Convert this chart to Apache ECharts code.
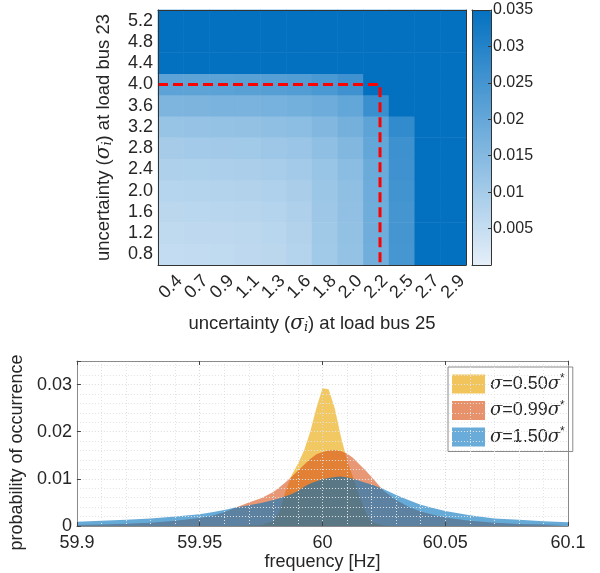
<!DOCTYPE html>
<html>
<head>
<meta charset="utf-8">
<script src="https://cdn.jsdelivr.net/npm/echarts@6/dist/echarts.min.js"></script>
<style>
html,body{margin:0;padding:0;background:#fff;}
#main{width:600px;height:573px;}
</style>
</head>
<body>
<div id="main"></div>
<script>
// ---------- top heatmap data ----------
const xCats = ['0.4','0.7','0.9','1.1','1.3','1.6','1.8','2.0','2.2','2.5','2.7','2.9'];
const yCats = ['0.8','1.2','1.6','2.0','2.4','2.8','3.2','3.6','4.0','4.4','4.8','5.2'];
// one array per y category (bottom to top), values per x category
const row08 = [0.0052,0.0055,0.0058,0.0061,0.0066,0.0076,0.0106,0.0126,0.0180,0.0248,0.035,0.035];
const row12 = [0.0059,0.0061,0.0063,0.0065,0.0070,0.0080,0.0108,0.0128,0.0182,0.0250,0.035,0.035];
const row16 = [0.0066,0.0068,0.0070,0.0072,0.0076,0.0085,0.0110,0.0130,0.0184,0.0251,0.035,0.035];
const row20 = [0.0075,0.0077,0.0078,0.0080,0.0084,0.0092,0.0114,0.0134,0.0186,0.0254,0.035,0.035];
const row24 = [0.0085,0.0087,0.0089,0.0091,0.0095,0.0102,0.0120,0.0140,0.0190,0.0258,0.035,0.035];
const row28 = [0.0100,0.0102,0.0104,0.0106,0.0110,0.0116,0.0134,0.0154,0.0202,0.0262,0.035,0.035];
const row32 = [0.0122,0.0124,0.0126,0.0128,0.0132,0.0138,0.0154,0.0174,0.0212,0.0278,0.035,0.035];
const row36 = [0.0162,0.0164,0.0166,0.0168,0.0171,0.0176,0.0186,0.0203,0.0266,0.035,0.035,0.035];
const row40 = [0.0210,0.0212,0.0215,0.0218,0.0222,0.0228,0.0240,0.0258,0.035,0.035,0.035,0.035];
const row44 = [0.035,0.035,0.035,0.035,0.035,0.035,0.035,0.035,0.035,0.035,0.035,0.035];
const row48 = [0.035,0.035,0.035,0.035,0.035,0.035,0.035,0.035,0.035,0.035,0.035,0.035];
const row52 = [0.035,0.035,0.035,0.035,0.035,0.035,0.035,0.035,0.035,0.035,0.035,0.035];
const heatRows = [row08,row12,row16,row20,row24,row28,row32,row36,row40,row44,row48,row52];
const colorbarTicks = [0,0.005,0.01,0.015,0.02,0.025,0.03,0.035];
// boundary of the dashed region (in column / row index units)
const limitCol = 8.15;   // just right of '2.2'
const limitRow = 8;      // '4.0'

// ---------- bottom histogram data ----------
const freq = [59.90,59.91,59.92,59.93,59.94,59.95,59.955,59.96,59.965,59.97,59.975,59.98,
  59.9825,59.985,59.9875,59.99,59.9925,59.995,59.9975,60.00,60.0025,60.005,60.0075,60.01,
  60.0125,60.015,60.0175,60.02,60.025,60.03,60.035,60.04,60.045,60.05,60.06,60.07,60.08,60.09,60.10];
const p050 = [0,0,0,0,0,0,0,0,0,0.0001,0.0002,0.0010,
  0.0030,0.0075,0.0108,0.0132,0.0160,0.0200,0.0250,0.0292,0.0290,0.0250,0.0190,0.0140,
  0.0103,0.0064,0.0030,0.0008,0.0001,0,0,0,0,0,0,0,0,0,0];
const p099 = [0.0002,0.0003,0.0005,0.0007,0.0011,0.0017,0.0022,0.0029,0.0040,0.0050,0.0059,0.0072,
  0.0082,0.0093,0.0105,0.0117,0.0130,0.0142,0.0152,0.0157,0.0160,0.0161,0.0159,0.0154,
  0.0144,0.0131,0.0118,0.0104,0.0074,0.0055,0.0041,0.0031,0.0024,0.0018,0.0011,0.0007,0.0004,0.0003,0.0002];
const p150 = [0.0009,0.0011,0.0013,0.0016,0.0020,0.0025,0.0029,0.0034,0.0040,0.0044,0.0049,0.0055,
  0.0059,0.0063,0.0068,0.0074,0.0083,0.0090,0.0095,0.0099,0.0102,0.0104,0.0105,0.0103,
  0.0100,0.0096,0.0092,0.0088,0.0078,0.0066,0.0055,0.0045,0.0038,0.0032,0.0023,0.0016,0.0013,0.0010,0.0008];
const seriesNames = ['σ=0.50σ*','σ=0.99σ*','σ=1.50σ*'];
const seriesFactor = ['0.50','0.99','1.50'];
const histColors = ['#EDB120','#D95319','#0072BD'];
const legendColors = ['#f2c55c','#e8926c','#6aacd9'];

// ---------- build ----------
const heatData = [];
heatRows.forEach((row, yi) => row.forEach((v, xi) => heatData.push([xi, yi, v])));

const FONT = 'Liberation Sans, Arial, Helvetica, sans-serif';
const TXT = '#262626';

const chart = echarts.init(document.getElementById('main'), null, {renderer: 'canvas'});

const hidden = {axisLabel:{show:false}, axisTick:{show:false}, splitLine:{show:false}};

const sigmaRich = {
  g: {fontFamily: 'DejaVu Serif, serif', fontStyle: 'italic', fontSize: 20, color: TXT},
  i: {fontFamily: 'DejaVu Serif, serif', fontStyle: 'italic', fontSize: 13, color: TXT, padding: [8,0,0,0]}
};

const option = {
  animation: false,
  textStyle: {fontFamily: FONT},
  grid: [
    {left: 158, top: 10, width: 308, height: 255},
    {left: 472, top: 10, width: 19, height: 255},
    {left: 75, top: 361, width: 493, height: 165}
  ],
  visualMap: {
    type: 'continuous', min: 0, max: 0.035, seriesIndex: 0,
    left: 472, top: 10, itemWidth: 19, itemHeight: 255, padding: 0,
    calculable: false, showLabel: false, text: null, hoverLink: false,
    inRange: {color: ['#e5eff9', '#0471c0']}
  },
  xAxis: [
    { // 0 heatmap categories
      type: 'category', data: xCats, gridIndex: 0, z: 10,
      axisLine: {show: true, onZero: false, lineStyle: {color: '#333', width: 1}},
      axisTick: {show: false},
      axisLabel: {rotate: 45, align: 'center', verticalAlign: 'middle', margin: 22, fontSize: 18, color: TXT, fontFamily: FONT, interval: 0},
      name: 'uncertainty ({g|σ}{i|i}) at load bus 25', nameLocation: 'middle', nameGap: 48,
      nameTextStyle: {fontSize: 18.5, color: TXT, fontFamily: FONT, rich: sigmaRich}
    },
    { // 1 heatmap index axis (frame top, dashed line)
      type: 'value', gridIndex: 0, min: -0.5, max: 11.5, position: 'top', z: 10,
      axisLine: {show: true, onZero: false, lineStyle: {color: '#333', width: 1}}, ...hidden
    },
    { // 2 colorbar bottom frame
      type: 'value', gridIndex: 1, min: 0, max: 1, position: 'bottom', z: 10,
      axisLine: {show: true, onZero: false, lineStyle: {color: '#333'}}, ...hidden
    },
    { // 3 colorbar top frame
      type: 'value', gridIndex: 1, min: 0, max: 1, position: 'top', z: 10,
      axisLine: {show: true, onZero: false, lineStyle: {color: '#333'}}, ...hidden
    },
    { // 4 frequency
      type: 'value', gridIndex: 2, min: 59.9, max: 60.1, interval: 0.05, position: 'bottom', z: 10,
      axisLine: {show: true, onZero: false, lineStyle: {color: '#8a8a8a'}},
      axisTick: {show: true, inside: true, length: 4, lineStyle: {color: '#444'}},
      axisLabel: {fontSize: 18, color: TXT, margin: 8, fontFamily: FONT,
        formatter: v => String(+v.toFixed(3))},
      splitLine: {show: true, lineStyle: {color: '#d9d9d9', type: [1, 2]}},
      minorTick: {show: false, splitNumber: 5},
      minorSplitLine: {show: true, lineStyle: {color: '#e3e3e3', type: [1, 2]}},
      name: 'frequency [Hz]', nameLocation: 'middle', nameGap: 27,
      nameTextStyle: {fontSize: 18, color: TXT, fontFamily: FONT}
    },
    { // 5 frequency top frame
      type: 'value', gridIndex: 2, min: 59.9, max: 60.1, interval: 0.05, position: 'top', z: 10,
      axisLine: {show: true, onZero: false, lineStyle: {color: '#8a8a8a'}},
      axisTick: {show: true, inside: true, length: 4, lineStyle: {color: '#444'}},
      axisLabel: {show: false}, splitLine: {show: false}
    }
  ],
  yAxis: [
    { // 0 heatmap categories
      type: 'category', data: yCats, gridIndex: 0, z: 10,
      axisLine: {show: true, onZero: false, lineStyle: {color: '#333', width: 1}},
      axisTick: {show: false},
      axisLabel: {fontSize: 18, color: TXT, margin: 5, fontFamily: FONT, interval: 0},
      name: 'uncertainty ({g|σ}{i|i}) at load bus 23', nameLocation: 'middle', nameGap: 44,
      nameTextStyle: {fontSize: 18.5, color: TXT, fontFamily: FONT, rich: sigmaRich}
    },
    { // 1 heatmap index axis
      type: 'value', gridIndex: 0, min: -0.5, max: 11.5, position: 'right', z: 10,
      axisLine: {show: true, onZero: false, lineStyle: {color: '#333', width: 1}}, ...hidden
    },
    { // 2 colorbar left frame
      type: 'value', gridIndex: 1, min: 0, max: 0.035, position: 'left', z: 10,
      axisLine: {show: true, onZero: false, lineStyle: {color: '#333'}}, ...hidden
    },
    { // 3 colorbar labels
      type: 'value', gridIndex: 1, min: colorbarTicks[0], max: colorbarTicks[colorbarTicks.length - 1],
      interval: 0.005, position: 'right', z: 10,
      axisLine: {show: true, onZero: false, lineStyle: {color: '#333'}},
      axisTick: {show: true, inside: true, length: 3, lineStyle: {color: '#333'}},
      axisLabel: {fontSize: 16, color: TXT, margin: 2, fontFamily: FONT,
        formatter: v => v === 0 ? '' : String(+v.toFixed(3))},
      splitLine: {show: false}
    },
    { // 4 probability
      type: 'value', gridIndex: 2, min: 0, max: 0.035, interval: 0.01, position: 'left', z: 10,
      axisLine: {show: true, onZero: false, lineStyle: {color: '#8a8a8a'}},
      axisTick: {show: true, inside: true, length: 4, lineStyle: {color: '#444'}},
      axisLabel: {fontSize: 18, color: TXT, margin: 5, fontFamily: FONT,
        formatter: v => v > 0.031 ? '' : String(+v.toFixed(3))},
      splitLine: {show: true, lineStyle: {color: '#d9d9d9', type: [1, 2]}},
      name: 'probability of occurrence', nameLocation: 'middle', nameGap: 38,
      nameTextStyle: {fontSize: 18, color: TXT, fontFamily: FONT, padding: [0, 18, 0, 0]}
    },
    { // 5 probability minor grid / right frame
      type: 'value', gridIndex: 2, min: 0, max: 0.035, interval: 0.002, position: 'right', z: 10,
      axisLine: {show: true, onZero: false, lineStyle: {color: '#8a8a8a'}},
      axisTick: {show: false}, axisLabel: {show: false},
      splitLine: {show: true, lineStyle: {color: '#e3e3e3', type: [1, 2]}}
    }
  ],
  legend: {
    orient: 'vertical', left: 448, top: 367,
    itemWidth: 33, itemHeight: 19, itemGap: 6, padding: [6, 8, 5, 4],
    backgroundColor: '#fff', borderColor: '#8a8a8a', borderWidth: 1, borderRadius: 0,
    icon: 'rect',
    data: seriesNames.map((n, k) => ({name: n, icon: 'rect', itemStyle: {color: legendColors[k], opacity: 1}})),
    formatter: name => {
      const k = seriesNames.indexOf(name);
      return '{g|σ}{n|=' + seriesFactor[k] + '}{g|σ}{s|*}';
    },
    textStyle: {
      fontSize: 18, color: TXT, fontFamily: FONT,
      rich: {
        g: {fontFamily: 'DejaVu Serif, serif', fontStyle: 'italic', fontSize: 18, color: TXT, lineHeight: 22},
        n: {fontSize: 18, color: TXT, fontFamily: FONT, lineHeight: 22},
        s: {fontSize: 12, color: TXT, fontFamily: FONT, verticalAlign: 'top', lineHeight: 12}
      }
    }
  },
  series: [
    {
      type: 'heatmap', xAxisIndex: 0, yAxisIndex: 0, data: heatData,
      itemStyle: {borderWidth: 0}, emphasis: {disabled: true}
    },
    {
      type: 'line', xAxisIndex: 1, yAxisIndex: 1, z: 5, symbol: 'none', silent: true,
      data: [[-0.5, limitRow], [limitCol, limitRow], [limitCol, -0.5]],
      lineStyle: {color: '#ff0000', width: 3, type: [10, 5]}
    }
  ].concat([p050, p099, p150].map((vals, k) => ({
    type: 'line', name: seriesNames[k], xAxisIndex: 4, yAxisIndex: 4,
    data: freq.map((f, i) => [f, vals[i]]),
    symbol: 'none', showSymbol: false, smooth: false,
    itemStyle: {color: histColors[k]},
    lineStyle: {width: 0, opacity: 0},
    areaStyle: {color: histColors[k], opacity: k === 0 ? 0.7 : 0.6},
    z: 2 + k
  })))
};

chart.setOption(option);
</script>
</body>
</html>
